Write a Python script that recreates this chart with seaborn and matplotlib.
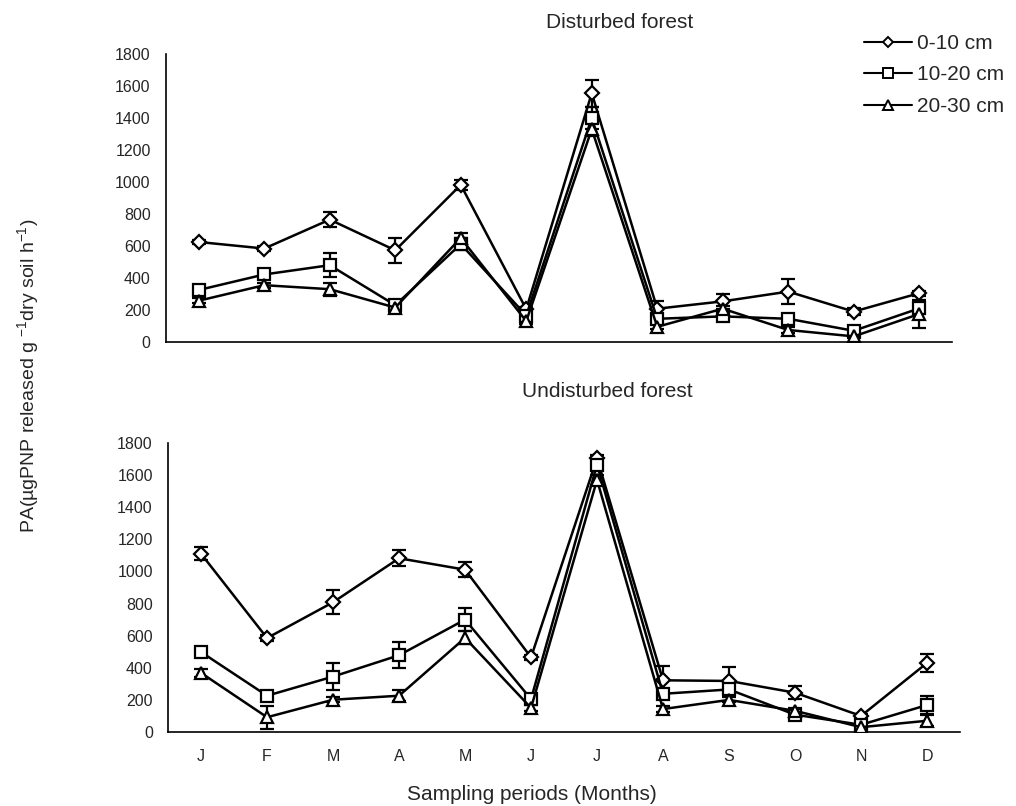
import numpy as np
import pandas as pd
import matplotlib
matplotlib.use("Agg")
import matplotlib.pyplot as plt
from matplotlib.lines import Line2D
import seaborn as sns

months = ["J", "F", "M", "A", "M", "J", "J", "A", "S", "O", "N", "D"]
depths = ["0-10 cm", "10-20 cm", "20-30 cm"]

# Disturbed forest
dist_0_10 = [625, 584, 765, 573, 982, 205, 1555, 208, 254, 315, 190, 305]
dist_0_10_err = [15, 15, 45, 80, 30, 15, 85, 50, 45, 80, 20, 15]
dist_10_20 = [325, 422, 480, 230, 612, 165, 1400, 145, 160, 145, 70, 210]
dist_10_20_err = [15, 20, 75, 30, 40, 20, 70, 20, 15, 15, 15, 30]
dist_20_30 = [258, 355, 330, 215, 650, 130, 1330, 95, 208, 75, 35, 175]
dist_20_30_err = [15, 15, 40, 35, 30, 20, 40, 15, 15, 20, 10, 90]

# Undisturbed forest
und_0_10 = [1110, 585, 808, 1082, 1011, 465, 1705, 322, 318, 245, 100, 430]
und_0_10_err = [40, 20, 75, 50, 45, 15, 20, 90, 85, 40, 15, 55]
und_10_20 = [498, 226, 345, 478, 700, 205, 1665, 238, 265, 108, 45, 168]
und_10_20_err = [15, 20, 85, 80, 70, 20, 30, 20, 20, 15, 15, 55]
und_20_30 = [368, 92, 201, 226, 586, 150, 1570, 143, 200, 132, 30, 70]
und_20_30_err = [25, 72, 15, 35, 40, 20, 30, 20, 15, 15, 10, 35]

markers = ["D", "s", "^"]
msizes = [7, 9, 9]


def make_df(vals, errs):
    rows = []
    for d, v, e in zip(depths, vals, errs):
        for i in range(len(months)):
            rows.append({"pos": i, "value": v[i], "err": e[i], "depth": d})
    return pd.DataFrame(rows)


def draw_panel(ax, df, show_labels):
    for d, m, ms in zip(depths, markers, msizes):
        sub = df[df["depth"] == d]
        ax.errorbar(sub["pos"], sub["value"], yerr=sub["err"], fmt="none",
                    ecolor="black", elinewidth=1.6, capsize=5, capthick=1.6, zorder=2)
        sns.lineplot(data=sub, x="pos", y="value", ax=ax, color="black",
                     linewidth=1.8, marker=m, markersize=ms, markerfacecolor="white",
                     markeredgecolor="black", markeredgewidth=1.6, zorder=3)
    ax.set_xlim(-0.5, 11.5)
    ax.set_ylim(0, 1800)
    ax.set_yticks(np.arange(0, 1801, 200))
    ax.set_xticks(np.arange(-0.5, 12, 1))
    ax.set_xticklabels([])
    ax.set_xticks(np.arange(12), minor=True)
    if show_labels:
        ax.set_xticklabels(months, minor=True)
    ax.tick_params(axis="x", which="minor", length=0, pad=12, labelsize=11.5)
    ax.tick_params(axis="x", which="major", length=5, width=1, direction="out")
    ax.tick_params(axis="y", length=5, width=1, labelsize=11.5, pad=6)
    ax.set_xlabel("")
    ax.set_ylabel("")
    for s in ["top", "right"]:
        ax.spines[s].set_visible(False)
    for s in ["left", "bottom"]:
        ax.spines[s].set_color("black")
        ax.spines[s].set_linewidth(1.2)


sns.set_style("white")
plt.rcParams["font.family"] = ["Liberation Sans", "DejaVu Sans"]

fig = plt.figure(figsize=(10.16, 8.06), dpi=100)
ax1 = fig.add_axes([0.1634, 0.5757, 0.7736, 0.3573])
ax2 = fig.add_axes([0.1654, 0.0918, 0.7795, 0.3586])

draw_panel(ax1, make_df([dist_0_10, dist_10_20, dist_20_30],
                        [dist_0_10_err, dist_10_20_err, dist_20_30_err]), False)
draw_panel(ax2, make_df([und_0_10, und_10_20, und_20_30],
                        [und_0_10_err, und_10_20_err, und_20_30_err]), True)

fig.text(620 / 1016, 1 - 22 / 806, "Disturbed forest", ha="center", va="center", fontsize=15)
fig.text(607 / 1016, 1 - 392 / 806, "Undisturbed forest", ha="center", va="center", fontsize=15)
fig.text(532 / 1016, 1 - 794 / 806, "Sampling periods (Months)", ha="center", va="center", fontsize=15)
fig.text(28 / 1016, 1 - 376 / 806,
         r"PA(µgPNP released g $\mathregular{^{-1}}$dry soil h$\mathregular{^{-1}}$)",
         rotation=90, ha="center", va="center", fontsize=14)

handles = [Line2D([0], [0], color="black", lw=1.5, marker=m, markersize=ms * 0.8,
                  markerfacecolor="white", markeredgecolor="black", markeredgewidth=1.4)
           for m, ms in zip(markers, msizes)]
fig.legend(handles, depths, loc="upper left", bbox_to_anchor=(864 / 1016, 1 - 34 / 806),
           frameon=False, fontsize=15, handlelength=2.3, handletextpad=0.25,
           labelspacing=0.6, borderaxespad=0, borderpad=0)

fig.savefig("out.png", dpi=100)
